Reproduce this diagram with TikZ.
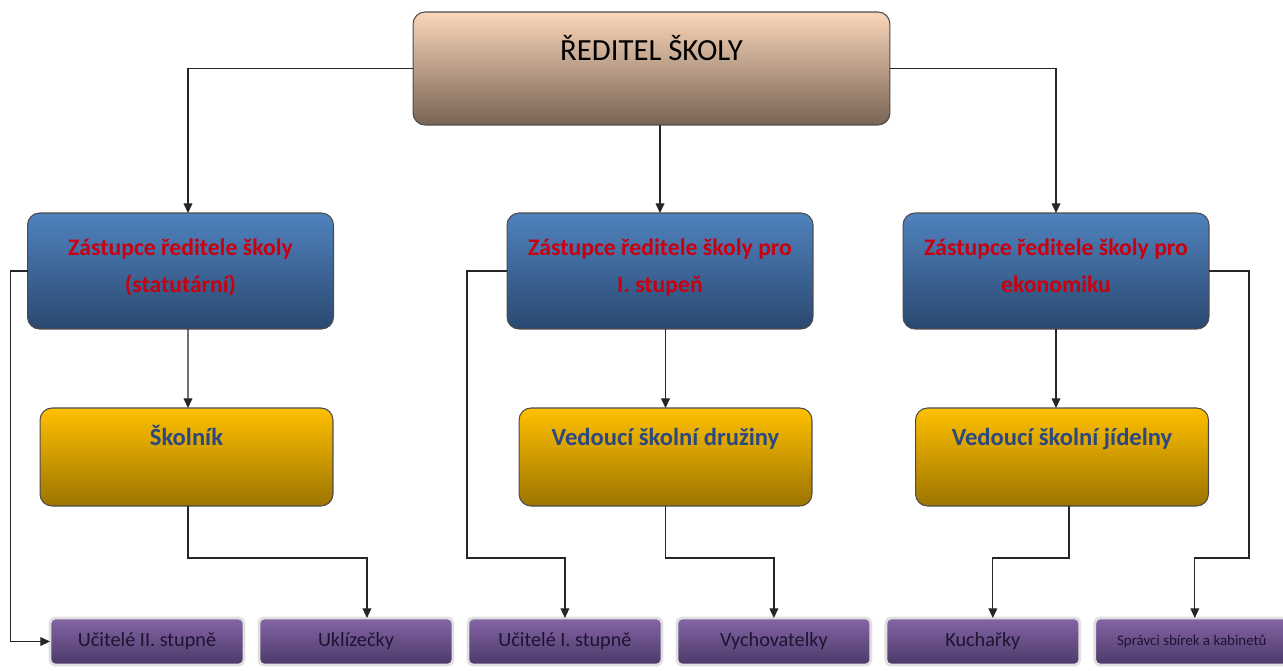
\documentclass[tikz,border=0pt]{standalone}
\usepackage{fontspec}
\setmainfont{Carlito}
\usetikzlibrary{positioning, arrows.meta}

\definecolor{chieftop}{RGB}{250,214,186}
\definecolor{chiefbot}{RGB}{120,100,84}
\definecolor{deputytop}{RGB}{80,130,190}
\definecolor{deputybot}{RGB}{42,72,112}
\definecolor{headtop}{RGB}{255,192,0}
\definecolor{headbot}{RGB}{156,116,0}
\definecolor{stafftop}{RGB}{132,102,166}
\definecolor{staffbot}{RGB}{76,56,104}
\definecolor{deputytext}{RGB}{200,0,16}
\definecolor{headtext}{RGB}{44,72,128}
\definecolor{stafftext}{RGB}{30,20,50}

\begin{document}
\begin{tikzpicture}[x=0.02cm, y=-0.02cm, node distance=0.3cm,
        conn/.style={draw=black!85, line width=0.7pt},
        arr/.style={conn, -{Triangle[length=5.5pt,width=5pt]}},
        chief/.style={rounded corners=0.24cm, draw=black!70, line width=0.6pt,
            top color=chieftop, bottom color=chiefbot, minimum width=9.54cm,
            inner sep=0pt, outer sep=0pt, text height=0.96cm, text depth=1.3cm,
            font=\fontsize{17.5}{21}\selectfont},
        deputy/.style={rounded corners=0.24cm, draw=black!70, line width=0.6pt,
            top color=deputytop, bottom color=deputybot, minimum width=6.12cm,
            inner sep=0pt, outer sep=0pt, text height=1.58cm, text depth=0.74cm,
            align=center, text=deputytext, font=\bfseries\fontsize{13.5}{21}\selectfont},
        head/.style={rounded corners=0.24cm, draw=black!70, line width=0.6pt,
            top color=headtop, bottom color=headbot, minimum width=5.86cm,
            inner sep=0pt, outer sep=0pt, text height=0.74cm, text depth=1.22cm,
            text=headtext, font=\bfseries\fontsize{14}{17}\selectfont},
        staff/.style={rounded corners=0.1cm, draw=black!12, line width=1.6pt,
            top color=stafftop, bottom color=staffbot, minimum width=3.88cm,
            minimum height=0.94cm, inner sep=0pt, outer sep=0pt,
            text=stafftext, font=\fontsize{11.5}{14}\selectfont}]
    \useasboundingbox (0,0) rectangle (1283,670);
    % Define the nodes
    \node[chief] (reditel) at (651.5,68.5) {ŘEDITEL ŠKOLY};
    \node[deputy] (zast1) at (180.5,271) {Zástupce ředitele školy\\(statutární)};
    \node[deputy] (zast2) at (660,271) {Zástupce ředitele školy pro\\I. stupeň};
    \node[deputy] (zast3) at (1056,271) {Zástupce ředitele školy pro\\ekonomiku};
    \node[head] (skolnik) at (186.5,457) {Školník};
    \node[head] (druzina) at (665.5,457) {Vedoucí školní družiny};
    \node[head] (jidelna) at (1062,457) {Vedoucí školní jídelny};
    \node[staff] (ucitele2) at (147,641.5) {Učitelé II. stupně};
    \node[staff] (uklizecky) [right=of ucitele2] {Uklízečky};
    \node[staff] (ucitele1) [right=of uklizecky] {Učitelé I. stupně};
    \node[staff] (vych) [right=of ucitele1] {Vychovatelky};
    \node[staff] (kucharky) [right=of vych] {Kuchařky};
    \node[staff, font=\fontsize{8.5}{10}\selectfont] (spravci) [right=of kucharky] {Správci sbírek a kabinetů};
    % Define the connections
    \draw[arr] (reditel.west) -| ([xshift=0.15cm]zast1.north);
    \draw[arr] (zast2.north |- reditel.south) -- (zast2.north);
    \draw[arr] (reditel.east) -| (zast3.north);
    \draw[arr] ([xshift=0.15cm]zast1.south) -- ([xshift=0.03cm]skolnik.north);
    \draw[arr] (zast2.south -| druzina.north) -- (druzina.north);
    \draw[arr] (zast3.south) -- (zast3.south |- jidelna.north);
    \draw[arr] (zast1.west) -- ++(-17,0) |- (ucitele2.west);
    \draw[arr] ([xshift=0.03cm]skolnik.south) -- ++(0,52) -| ([xshift=0.22cm]uklizecky.north);
    \draw[arr] (zast2.west) -- ++(-40,0) -- ++(0,287) -| (ucitele1.north);
    \draw[arr] (druzina.south) -- ++(0,52) -| (vych.north);
    \draw[arr] ([xshift=0.14cm]jidelna.south) -- ++(0,52) -| ([xshift=0.2cm]kucharky.north);
    \draw[arr] (zast3.east) -- ++(40,0) -- ++(0,287) -| ([xshift=0.06cm]spravci.north);
\end{tikzpicture}
\end{document}
